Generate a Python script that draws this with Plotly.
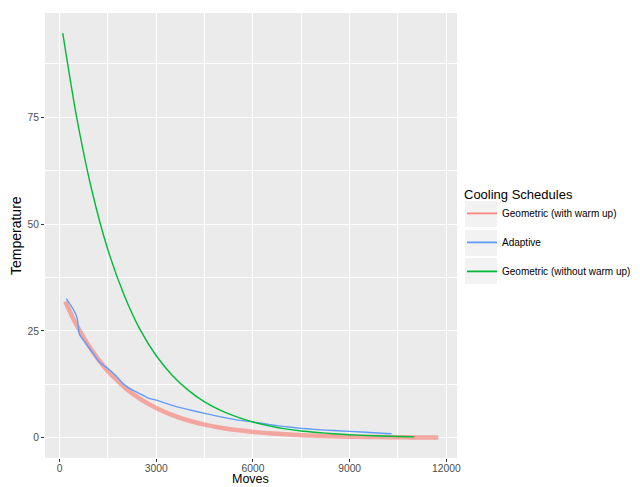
import plotly.graph_objects as go

# Geometric (with warm up)
geo_warm_x = [180, 400, 600, 800, 1000, 1250, 1500, 1750, 2000, 2500, 3000, 3500, 4000, 4500,
              5000, 5500, 6000, 6500, 7000, 7500, 8000, 8500, 9000, 9500, 10000, 10500, 11000,
              11500, 11750]
geo_warm_y = [31.9, 28.3, 25.4, 22.8, 20.5, 17.9, 15.6, 13.7, 11.9, 9.1, 6.96, 5.3, 4.05, 3.09,
              2.36, 1.80, 1.38, 1.05, 0.80, 0.61, 0.47, 0.36, 0.27, 0.21, 0.16, 0.12, 0.09,
              0.07, 0.06]

# Adaptive
adaptive_x = [210, 350, 500, 560, 620, 800, 1000, 1250, 1500, 1750, 2000, 2250, 2500, 2750,
              3000, 3500, 4000, 4500, 5000, 5500, 6000, 6500, 7000, 7500, 8000, 8500, 9000,
              9500, 10000, 10300]
adaptive_y = [32.6, 31.0, 29.0, 27.5, 24.2, 22.3, 20.2, 17.6, 16.2, 14.5, 12.5, 11.2, 10.3, 9.3,
              8.8, 7.6, 6.6, 5.7, 4.9, 4.2, 3.7, 3.1, 2.6, 2.2, 1.9, 1.7, 1.5, 1.3, 1.05, 0.95]

# Geometric (without warm up)
geo_nowarm_x = [100, 500, 1000, 1500, 2000, 2500, 3000, 3500, 4000, 4500, 5000, 5500, 6000,
                6500, 7000, 7500, 8000, 8500, 9000, 9500, 10000, 10500, 11000]
geo_nowarm_y = [94.7, 76.3, 58.0, 44.0, 33.5, 25.3, 19.2, 14.6, 11.1, 8.4, 6.4, 4.9, 3.7,
                2.8, 2.1, 1.6, 1.25, 0.95, 0.72, 0.55, 0.42, 0.32, 0.24]

x_ticks = [0, 3000, 6000, 9000, 12000]
y_ticks = [0, 25, 50, 75]

series = [
    ("Geometric (with warm up)", geo_warm_x, geo_warm_y, "rgba(248,118,109,0.6)", 4.5,
     "rgba(248,118,109,0.85)"),
    ("Adaptive", adaptive_x, adaptive_y, "#619CFF", 1.4, "#619CFF"),
    ("Geometric (without warm up)", geo_nowarm_x, geo_nowarm_y, "#00BA38", 1.4, "#00BA38"),
]

fig = go.Figure()
for i, (name, xs, ys, col, w, keycol) in enumerate(series):
    fig.add_trace(go.Scatter(x=xs, y=ys, mode="lines", name=name, legendgroup=f"g{i}",
                             showlegend=False,
                             line=dict(color=col, width=w, shape="spline", smoothing=0.6)))
    # legend key (thin line as in the reference's key)
    fig.add_trace(go.Scatter(x=[None], y=[None], mode="lines", name=name, legendgroup=f"g{i}",
                             showlegend=True, line=dict(color=keycol, width=1.8)))

# page is offset by the 8px default body margin; figure is sized to fit the 640x487 window
W, H = 632, 479
PL, PT, PW, PH = 37, 5, 412, 445

def px_x(page_x):
    return (page_x - 8 - PL) / PW

def px_y(page_y):
    return (PT + PH - (page_y - 8)) / PH

key_boxes = []
for yc in (214, 243, 271):
    key_boxes.append(dict(type="rect", xref="paper", yref="paper",
                          x0=px_x(465), x1=px_x(497), y0=px_y(yc + 13), y1=px_y(yc - 13),
                          fillcolor="#F2F2F2", line=dict(width=0), layer="below"))

font = "Liberation Sans, Arial, sans-serif"
fig.update_layout(
    width=W, height=H,
    margin=dict(l=PL, r=W - PL - PW, t=PT, b=H - PT - PH),
    paper_bgcolor="white", plot_bgcolor="#EBEBEB",
    font=dict(family=font, size=10, color="black"),
    showlegend=True,
    legend=dict(xref="container", yref="container", x=(462 - 8) / W, y=1 - (182 - 8) / H,
                xanchor="left", yanchor="top",
                title=dict(text="Cooling Schedules", font=dict(size=13, color="black")),
                font=dict(size=10, color="black"), tracegroupgap=10,
                bgcolor="rgba(0,0,0,0)"),
    shapes=key_boxes,
    xaxis=dict(range=[-451, 12331], tickvals=x_ticks, ticktext=[str(v) for v in x_ticks],
               showgrid=True, gridcolor="white", gridwidth=1.1, zeroline=False,
               minor=dict(dtick=1500, tick0=0, showgrid=True, gridcolor="white", gridwidth=0.5),
               ticks="outside", ticklen=3, tickcolor="#333333", tickwidth=1,
               tickfont=dict(size=10.3, color="#4D4D4D"), automargin=False,
               ticklabelstandoff=-2, showline=False),
    yaxis=dict(range=[-4.73, 99.43], tickvals=y_ticks, ticktext=[str(v) for v in y_ticks],
               showgrid=True, gridcolor="white", gridwidth=1.1, zeroline=False,
               minor=dict(dtick=12.5, tick0=0, showgrid=True, gridcolor="white", gridwidth=0.5),
               ticks="outside", ticklen=3, tickcolor="#333333", tickwidth=1,
               tickfont=dict(size=10.3, color="#4D4D4D"), automargin=False,
               showline=False),
    annotations=[
        dict(text="Moves", xref="paper", yref="paper", x=px_x(250), y=px_y(479),
             xanchor="center", yanchor="middle", showarrow=False,
             font=dict(size=12.5, color="black")),
        dict(text="Temperature", xref="paper", yref="paper", x=px_x(16), y=px_y(236),
             xanchor="center", yanchor="middle", textangle=-90, showarrow=False,
             font=dict(size=14, color="black")),
    ],
)

fig.write_html("out.html")
